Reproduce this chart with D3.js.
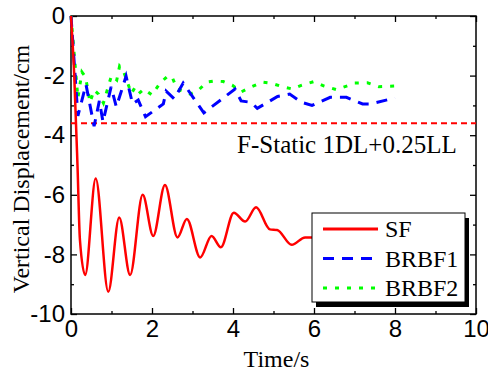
<!DOCTYPE html>
<html>
<head>
<meta charset="utf-8">
<script src="https://cdn.jsdelivr.net/npm/d3@7/dist/d3.min.js"></script>
<style>
  body { margin: 0; background: #fff; }
  svg { display: block; font-family: "Liberation Serif", "Times New Roman", serif; }
</style>
</head>
<body>
<div id="chart"></div>
<script>
// SF (solid red) — displacement history
const sfTime = [0, 0.08, 0.16, 0.22, 0.35, 0.61, 0.92, 1.19, 1.46, 1.77, 2.03, 2.32, 2.63, 2.86, 3.19, 3.47, 3.70, 4.02, 4.30, 4.57, 4.91, 5.09, 5.45, 5.78, 6.0, 8.0];
const sfDisp = [0, -2.0, -5.0, -7.5, -8.69, -5.45, -9.25, -6.76, -8.69, -6.0, -7.38, -5.67, -7.43, -6.81, -8.1, -7.38, -7.76, -6.6, -6.9, -6.42, -7.16, -7.18, -7.68, -7.43, -7.43, -7.43];

// BRBF1 (dashed blue)
const b1Time = [0, 0.17, 0.37, 0.57, 0.70, 0.79, 0.99, 1.12, 1.36, 1.52, 1.66, 1.84, 2.28, 2.35, 2.55, 2.77, 3.28, 4.05, 4.2, 4.45, 4.6, 5.1, 5.4, 5.7, 5.95, 6.4, 6.8, 7.2, 7.4, 8.0];
const b1Disp = [0, -3.35, -2.3, -3.7, -2.85, -3.55, -2.38, -3.05, -2.02, -2.95, -2.82, -3.38, -2.95, -2.52, -2.78, -2.25, -3.25, -2.45, -2.85, -2.9, -3.1, -2.7, -2.62, -2.9, -3.0, -2.73, -2.73, -2.95, -2.95, -2.75];

// BRBF2 (dotted green)
const b2Time = [0, 0.17, 0.27, 0.36, 0.47, 0.57, 0.68, 0.80, 1.0, 1.13, 1.2, 1.29, 1.49, 1.57, 1.66, 1.8, 2.0, 2.2, 2.4, 2.5, 2.62, 2.94, 3.14, 3.35, 3.56, 3.76, 3.98, 4.2, 4.45, 4.73, 4.96, 5.21, 5.47, 5.7, 6.0, 6.25, 6.55, 6.85, 7.0, 7.32, 7.6, 8.0];
const b2Disp = [0, -2.75, -1.88, -2.05, -2.9, -2.48, -2.62, -2.92, -2.0, -2.15, -1.68, -1.82, -2.6, -2.42, -2.62, -2.45, -2.65, -2.25, -2.0, -2.06, -2.45, -2.62, -2.5, -2.22, -2.18, -2.2, -2.32, -2.55, -2.38, -2.22, -2.26, -2.37, -2.45, -2.32, -2.2, -2.35, -2.47, -2.33, -2.25, -2.24, -2.37, -2.35];

const staticLevel = -3.6;
const staticLabel = 'F-Static 1DL+0.25LL';

const xMajor = [0, 2, 4, 6, 8, 10];
const xMinor = [1, 3, 5, 7, 9];
const yMajor = [0, -2, -4, -6, -8, -10];
const yMinor = [-1, -3, -5, -7, -9];

const seriesNames = ['SF', 'BRBF1', 'BRBF2'];
const seriesColors = ['#ff0000', '#0000ff', '#00ff00'];
const seriesDash = [null, '11,8', '4,8'];

const width = 488, height = 374;
const mLeft = 71, mRight = 476, mTop = 16, mBottom = 314;

const svg = d3.select('#chart')
  .append('svg')
  .attr('width', width)
  .attr('height', height);

const x = d3.scaleLinear().domain([0, 10]).range([mLeft, mRight]);
const y = d3.scaleLinear().domain([-10, 0]).range([mBottom, mTop]);

const fmt = d => String(d);

// axes: major + minor ticks, all pointing inward
function addAxis(axis, tr, labels) {
  const g = svg.append('g').attr('transform', tr).call(axis);
  g.select('.domain').remove();
  g.selectAll('line').attr('stroke', '#000').attr('stroke-width', 1.3);
  g.selectAll('text').attr('fill', '#000').attr('font-size', 24);
  if (!labels) g.selectAll('text').remove();
  return g;
}

addAxis(d3.axisBottom(x).tickValues(xMajor).tickFormat(fmt).tickSize(-6).tickPadding(6), `translate(0,${mBottom})`, true);
addAxis(d3.axisBottom(x).tickValues(xMinor).tickSize(-3), `translate(0,${mBottom})`, false);
addAxis(d3.axisTop(x).tickValues(xMajor).tickSize(-6), `translate(0,${mTop})`, false);
addAxis(d3.axisTop(x).tickValues(xMinor).tickSize(-3), `translate(0,${mTop})`, false);
addAxis(d3.axisLeft(y).tickValues(yMajor).tickFormat(fmt).tickSize(-6).tickPadding(6), `translate(${mLeft},0)`, true);
addAxis(d3.axisLeft(y).tickValues(yMinor).tickSize(-3), `translate(${mLeft},0)`, false);
addAxis(d3.axisRight(y).tickValues(yMajor).tickSize(-6), `translate(${mRight},0)`, false);
addAxis(d3.axisRight(y).tickValues(yMinor).tickSize(-3), `translate(${mRight},0)`, false);

svg.append('rect')
  .attr('x', mLeft).attr('y', mTop)
  .attr('width', mRight - mLeft).attr('height', mBottom - mTop)
  .attr('fill', 'none').attr('stroke', '#000').attr('stroke-width', 1.5);

// static reference line + label
svg.append('line')
  .attr('x1', x(0)).attr('x2', x(10))
  .attr('y1', y(staticLevel)).attr('y2', y(staticLevel))
  .attr('stroke', '#ff0000').attr('stroke-width', 2)
  .attr('stroke-dasharray', '6,4');

svg.append('text')
  .attr('x', x(4.1)).attr('y', y(-4.6))
  .attr('font-size', 25).attr('fill', '#000')
  .text(staticLabel);

// series
const smooth = d3.line().x(d => x(d[0])).y(d => y(d[1])).curve(d3.curveMonotoneX);
const straight = d3.line().x(d => x(d[0])).y(d => y(d[1]));

const series = [
  { pts: d3.zip(sfTime, sfDisp), gen: smooth },
  { pts: d3.zip(b1Time, b1Disp), gen: straight },
  { pts: d3.zip(b2Time, b2Disp), gen: straight }
];

// draw green first, then blue, then red on top
[2, 1, 0].forEach(i => {
  svg.append('path')
    .datum(series[i].pts)
    .attr('d', series[i].gen)
    .attr('fill', 'none')
    .attr('stroke', seriesColors[i])
    .attr('stroke-width', i === 0 ? 2.5 : 3)
    .attr('stroke-dasharray', seriesDash[i]);
});

// legend with drop shadow
const lg = svg.append('g').attr('transform', 'translate(312,213)');
lg.append('rect').attr('x', 4).attr('y', 5).attr('width', 153).attr('height', 89).attr('fill', '#000');
lg.append('rect').attr('width', 153).attr('height', 89).attr('fill', '#fff').attr('stroke', '#000').attr('stroke-width', 1);

seriesNames.forEach((name, i) => {
  const ly = 16 + i * 29.5;
  lg.append('line')
    .attr('x1', 11).attr('x2', 66).attr('y1', ly).attr('y2', ly)
    .attr('stroke', seriesColors[i]).attr('stroke-width', 3)
    .attr('stroke-dasharray', seriesDash[i]);
  lg.append('text')
    .attr('x', 73).attr('y', ly).attr('dy', '0.35em')
    .attr('font-size', 24).attr('fill', '#000')
    .text(name);
});

// axis titles
svg.append('text')
  .attr('x', (mLeft + mRight) / 2 + 3).attr('y', 367)
  .attr('text-anchor', 'middle').attr('font-size', 24).attr('fill', '#000')
  .text('Time/s');

svg.append('text')
  .attr('transform', `translate(29,${(mTop + mBottom) / 2 + 4}) rotate(-90)`)
  .attr('text-anchor', 'middle').attr('font-size', 24).attr('fill', '#000')
  .text('Vertical Displacement/cm');
</script>
</body>
</html>
